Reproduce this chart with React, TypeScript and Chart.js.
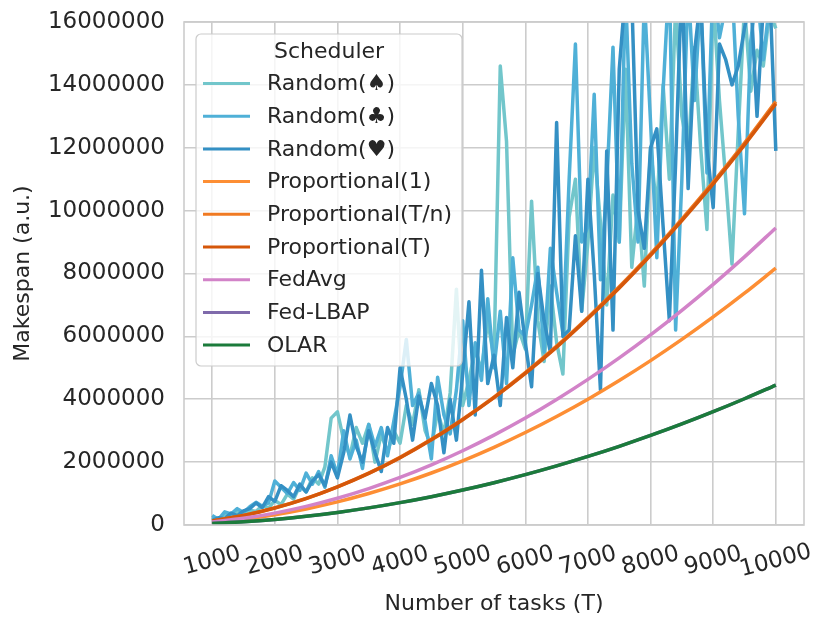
import { useEffect, useRef } from "react";
import { Chart, Plugin, registerables } from "chart.js";

Chart.register(...registerables);

const FONT = "'DejaVu Sans', sans-serif";
const TEXT = "#262626";
const GRID = "#cccccc";

// random schedulers are sampled every 100 tasks
const randomTasks = [
  1000, 1100, 1200, 1300, 1400, 1500, 1600, 1700, 1800, 1900,
  2000, 2100, 2200, 2300, 2400, 2500, 2600, 2700, 2800, 2900,
  3000, 3100, 3200, 3300, 3400, 3500, 3600, 3700, 3800, 3900,
  4000, 4100, 4200, 4300, 4400, 4500, 4600, 4700, 4800, 4900,
  5000, 5100, 5200, 5300, 5400, 5500, 5600, 5700, 5800, 5900,
  6000, 6100, 6200, 6300, 6400, 6500, 6600, 6700, 6800, 6900,
  7000, 7100, 7200, 7300, 7400, 7500, 7600, 7700, 7800, 7900,
  8000, 8100, 8200, 8300, 8400, 8500, 8600, 8700, 8800, 8900,
  9000, 9100, 9200, 9300, 9400, 9500, 9600, 9700, 9800, 9900,
  10000,
];

const randomSpade = [
  260000, 200000, 330000, 280000, 420000, 360000, 470000, 430000, 620000, 540000,
  780000, 650000, 980000, 820000, 1250000, 1050000, 1500000, 1300000, 1850000, 3400000,
  3600000, 2700000, 2200000, 3100000, 2600000, 3200000, 2000000, 2900000, 2300000, 3000000,
  2600000, 3800000, 3200000, 4300000, 3000000, 2500000, 3600000, 2900000, 4200000, 7500000,
  3800000, 4600000, 5600000, 4900000, 6500000, 5300000, 14600000, 12200000, 5400000, 6200000,
  5600000, 10300000, 6500000, 5200000, 7600000, 5800000, 4800000, 9800000, 11000000, 6800000,
  9000000, 12000000, 9600000, 7000000, 10500000, 9000000, 14500000, 8200000, 10200000, 7600000,
  12000000, 10000000, 14000000, 11000000, 16500000, 13000000, 11800000, 15200000, 12000000, 9400000,
  16800000, 13500000, 11000000, 8300000, 12500000, 16500000, 13800000, 15100000, 14600000, 16300000,
  15800000,
];

const randomClub = [
  300000, 180000, 420000, 350000, 520000, 400000, 580000, 720000, 600000, 700000,
  1400000, 1200000, 1000000, 1350000, 1100000, 1650000, 1300000, 1700000, 1200000, 2200000,
  1600000, 3000000, 2100000, 2700000, 1800000, 3200000, 2500000, 3100000, 2200000, 3300000,
  4400000, 5900000, 3800000, 4200000, 3300000, 2100000, 4700000, 3500000, 2900000, 4300000,
  6500000, 3800000, 5800000, 4600000, 7200000, 5000000, 6800000, 4500000, 8500000, 6200000,
  6000000, 7000000, 8200000, 5500000, 8800000, 7400000, 6100000, 11000000, 15300000, 9000000,
  9500000, 13700000, 7800000, 10800000, 15200000, 9000000, 17000000, 11500000, 9000000, 16800000,
  12800000, 8500000, 13800000, 17500000, 6200000, 11000000, 17200000, 13500000, 16800000, 11200000,
  17500000, 15500000, 16500000, 17200000, 13000000, 9900000, 15400000, 17000000, 14800000, 16600000,
  16200000,
];

const randomHeart = [
  150000, 230000, 200000, 380000, 300000, 450000, 520000, 700000, 550000, 900000,
  750000, 1250000, 1100000, 900000, 1300000, 1050000, 1400000, 1600000, 1250000, 2000000,
  1500000, 2300000, 3500000, 2500000, 2000000, 3000000, 2300000, 1700000, 3100000, 2600000,
  5000000, 4000000, 2700000, 4100000, 3400000, 4500000, 3800000, 2300000, 4000000, 2700000,
  4800000, 7100000, 3500000, 8100000, 4500000, 5400000, 3800000, 6600000, 5000000, 7400000,
  5800000, 4400000, 8000000, 6500000, 5500000, 12800000, 6000000, 6200000, 9200000, 6800000,
  11000000, 8000000, 4300000, 11900000, 6200000, 14500000, 17000000, 16800000, 10000000, 8800000,
  12000000, 12600000, 9500000, 6500000, 11500000, 17500000, 10700000, 15000000, 16800000, 12000000,
  10100000, 15300000, 14800000, 14000000, 14600000, 15800000, 16800000, 13000000, 16500000, 17200000,
  11900000,
];

// deterministic schedulers, read every 500 tasks
const smoothTasks = [
  1000, 1500, 2000, 2500, 3000, 3500, 4000, 4500, 5000, 5500,
  6000, 6500, 7000, 7500, 8000, 8500, 9000, 9500, 10000,
];
const proportional1 = [
  82000, 184000, 327000, 511000, 735000, 1001000, 1307000, 1654000, 2043000, 2471000,
  2941000, 3452000, 4003000, 4596000, 5229000, 5903000, 6618000, 7373000, 8170000,
];
const proportionalTn = [
  131000, 302000, 543000, 844000, 1216000, 1648000, 2151000, 2724000, 3367000, 4070000,
  4844000, 5688000, 6603000, 7578000, 8623000, 9728000, 10904000, 12150000, 13467000,
];
const proportionalT = [
  130000, 300000, 540000, 840000, 1210000, 1640000, 2140000, 2710000, 3350000, 4050000,
  4820000, 5660000, 6570000, 7540000, 8580000, 9680000, 10850000, 12090000, 13400000,
];
const fedAvg = [
  95000, 213000, 378000, 591000, 851000, 1158000, 1512000, 1914000, 2363000, 2859000,
  3402000, 3993000, 4631000, 5316000, 6048000, 6828000, 7655000, 8529000, 9450000,
];
const fedLbap = [
  45000, 100000, 178000, 278000, 401000, 545000, 712000, 901000, 1113000, 1346000,
  1602000, 1880000, 2181000, 2503000, 2848000, 3215000, 3605000, 4016000, 4450000,
];
const olar = [
  45000, 100000, 178000, 278000, 401000, 545000, 712000, 901000, 1113000, 1346000,
  1602000, 1880000, 2181000, 2503000, 2848000, 3215000, 3605000, 4016000, 4450000,
];

const xTicks = [1000, 2000, 3000, 4000, 5000, 6000, 7000, 8000, 9000, 10000];
const yTicks = [0, 2000000, 4000000, 6000000, 8000000, 10000000, 12000000, 14000000, 16000000];

const series = [
  { label: "Random(\u2660)", color: "#72c6cb", tasks: randomTasks, values: randomSpade },
  { label: "Random(\u2663)", color: "#4fb0d7", tasks: randomTasks, values: randomClub },
  { label: "Random(\u2665)", color: "#3490c4", tasks: randomTasks, values: randomHeart },
  { label: "Proportional(1)", color: "#fd8e34", tasks: smoothTasks, values: proportional1 },
  { label: "Proportional(T/n)", color: "#f07a22", tasks: smoothTasks, values: proportionalTn },
  { label: "Proportional(T)", color: "#d5570a", tasks: smoothTasks, values: proportionalT },
  { label: "FedAvg", color: "#d283c8", tasks: smoothTasks, values: fedAvg },
  { label: "Fed-LBAP", color: "#7f6aab", tasks: smoothTasks, values: fedLbap },
  { label: "OLAR", color: "#1b7b3b", tasks: smoothTasks, values: olar },
];

const frameAndLabels: Plugin = {
  id: "frameAndLabels",
  afterDraw(chart) {
    const { ctx, chartArea } = chart;
    const x = chart.scales.x;
    ctx.save();
    ctx.strokeStyle = GRID;
    ctx.lineWidth = 1.6;
    ctx.strokeRect(chartArea.left, chartArea.top, chartArea.right - chartArea.left, chartArea.bottom - chartArea.top);

    // rotated x tick labels, centred on their ticks
    ctx.font = `23px ${FONT}`;
    ctx.fillStyle = TEXT;
    ctx.textAlign = "center";
    ctx.textBaseline = "middle";
    xTicks.forEach((v) => {
      ctx.save();
      ctx.translate(x.getPixelForValue(v), chartArea.bottom + 36);
      ctx.rotate((-15 * Math.PI) / 180);
      ctx.fillText(String(v), 0, 0);
      ctx.restore();
    });

    // legend box
    const left = chartArea.left + 12;
    const top = chartArea.top + 12;
    const w = 266;
    const h = 332;
    ctx.beginPath();
    ctx.roundRect(left, top, w, h, 5);
    ctx.fillStyle = "rgba(255,255,255,0.8)";
    ctx.fill();
    ctx.strokeStyle = "#cccccc";
    ctx.lineWidth = 1.2;
    ctx.stroke();

    ctx.font = `22px ${FONT}`;
    ctx.fillStyle = TEXT;
    ctx.textAlign = "center";
    ctx.fillText("Scheduler", left + w / 2, top + 18);
    ctx.textAlign = "left";
    series.forEach((s, i) => {
      const yy = top + 49.5 + i * 32.7;
      ctx.beginPath();
      ctx.strokeStyle = s.color;
      ctx.lineWidth = 3;
      ctx.moveTo(left + 7, yy);
      ctx.lineTo(left + 54, yy);
      ctx.stroke();
      ctx.fillStyle = TEXT;
      ctx.fillText(s.label, left + 71, yy + 1);
    });
    ctx.restore();
  },
};

export default function App() {
  const canvasRef = useRef<HTMLCanvasElement>(null);
  const chartRef = useRef<Chart | null>(null);

  useEffect(() => {
    if (!canvasRef.current) return;
    if (chartRef.current) chartRef.current.destroy();

    chartRef.current = new Chart(canvasRef.current, {
      type: "line",
      data: {
        datasets: series.map((s, i) => ({
          label: s.label,
          data: s.tasks.map((t, j) => ({ x: t, y: s.values[j] })),
          borderColor: s.color,
          backgroundColor: s.color,
          borderWidth: 3.5,
          pointRadius: 0,
          borderJoinStyle: "round" as const,
          tension: 0,
          cubicInterpolationMode: i > 2 ? ("monotone" as const) : ("default" as const),
          order: series.length - i,
        })),
      },
      options: {
        responsive: true,
        maintainAspectRatio: false,
        animation: false,
        layout: { padding: { top: 22, right: 26, left: 0, bottom: 0 } },
        plugins: {
          legend: { display: false },
          tooltip: { enabled: false },
        },
        scales: {
          x: {
            type: "linear",
            min: 550,
            max: 10450,
            afterBuildTicks: (scale) => {
              scale.ticks = xTicks.map((v) => ({ value: v }));
            },
            afterFit: (scale) => {
              scale.height = 105;
              scale.paddingLeft = 0;
              scale.paddingRight = 0;
            },
            grid: { color: GRID, lineWidth: 1.6, drawTicks: false },
            border: { display: false },
            ticks: { display: false },
            title: {
              display: true,
              text: "Number of tasks (T)",
              color: TEXT,
              font: { family: FONT, size: 22 },
              padding: { top: 0, bottom: 13 },
            },
          },
          y: {
            type: "linear",
            min: 0,
            max: 16000000,
            afterBuildTicks: (scale) => {
              scale.ticks = yTicks.map((v) => ({ value: v }));
            },
            afterFit: (scale) => {
              scale.width = 184;
              scale.paddingTop = 0;
              scale.paddingBottom = 0;
            },
            grid: { color: GRID, lineWidth: 1.6, drawTicks: false },
            border: { display: false },
            ticks: {
              color: TEXT,
              padding: 19,
              font: { family: FONT, size: 23 },
              callback: (value) => String(value),
            },
            title: {
              display: true,
              text: "Makespan (a.u.)",
              color: TEXT,
              font: { family: FONT, size: 22 },
              padding: { top: 10, bottom: 0 },
            },
          },
        },
      },
      plugins: [frameAndLabels],
    });

    return () => {
      if (chartRef.current) {
        chartRef.current.destroy();
        chartRef.current = null;
      }
    };
  }, []);

  return (
    <div style={{ position: "fixed", left: 0, top: 0, width: 830, height: 630, background: "#fff" }}>
      <canvas ref={canvasRef}></canvas>
    </div>
  );
}
